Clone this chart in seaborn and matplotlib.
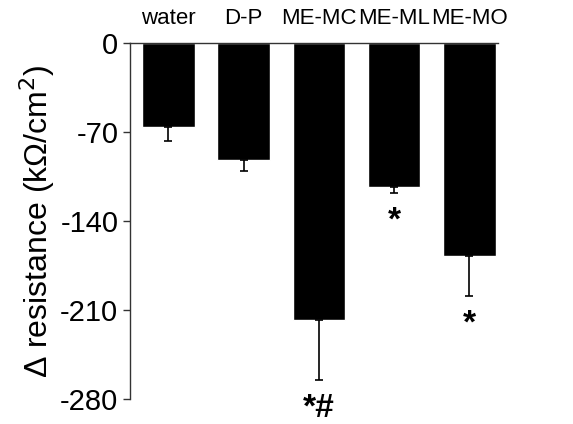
import numpy as np
import pandas as pd
import matplotlib
matplotlib.use('Agg')
import matplotlib.pyplot as plt
import seaborn as sns

# valores
groups = ['water', 'D-P', 'ME-MC', 'ME-ML', 'ME-MO']
delta_res = [-66.2, -92.2, -217.8, -113.0, -167.9]
sem = [11.0, 8.7, 47.8, 5.2, 31.0]
signif = ['', '', '*#', '*', '*']

df = pd.DataFrame({'group': groups, 'value': delta_res, 'sem': sem})

sns.set_style('ticks')
plt.rcParams['font.family'] = ['Liberation Sans', 'DejaVu Sans']
plt.rcParams['axes.unicode_minus'] = False
plt.rcParams['text.color'] = 'black'
plt.rcParams['axes.labelcolor'] = 'black'
plt.rcParams['xtick.color'] = 'black'
plt.rcParams['ytick.color'] = 'black'

fig = plt.figure(figsize=(5.73, 4.24), dpi=100)
ax = fig.add_axes([0.227, 0.060, 0.642, 0.838])

sns.barplot(data=df, x='group', y='value', color='black', width=0.7,
            errorbar=None, ax=ax)
ax.errorbar(np.arange(len(groups)), df['value'],
            yerr=[df['sem'], np.zeros(len(groups))],
            fmt='none', ecolor='black', elinewidth=1.2, capsize=2.8,
            capthick=1.2)

# asteriscos bajo las barras de error
for i, s in enumerate(signif):
    if s:
        ax.text(i, df['value'][i] - df['sem'][i] - 10, s, ha='center',
                va='top', fontsize=24, fontweight='bold', clip_on=False)

ax.set_ylim(-280, 0)
ax.set_xlim(-0.51, 4.38)
ax.set_yticks([0, -70, -140, -210, -280])
ax.tick_params(axis='y', labelsize=21, length=5, width=1, color='#333333')
ax.tick_params(axis='x', top=False, bottom=False, labeltop=True,
               labelbottom=False, length=0, pad=10, labelsize=16)
ax.set_xlabel('')
ax.set_ylabel('Δ resistance (kΩ/cm$^2$)', fontsize=23, labelpad=2)

sns.despine(ax=ax, top=False, bottom=True, right=True)
ax.spines['top'].set_color('#333333')
ax.spines['left'].set_color('#333333')
ax.spines['top'].set_linewidth(1)
ax.spines['left'].set_linewidth(1)

fig.savefig('out.png', dpi=100)
